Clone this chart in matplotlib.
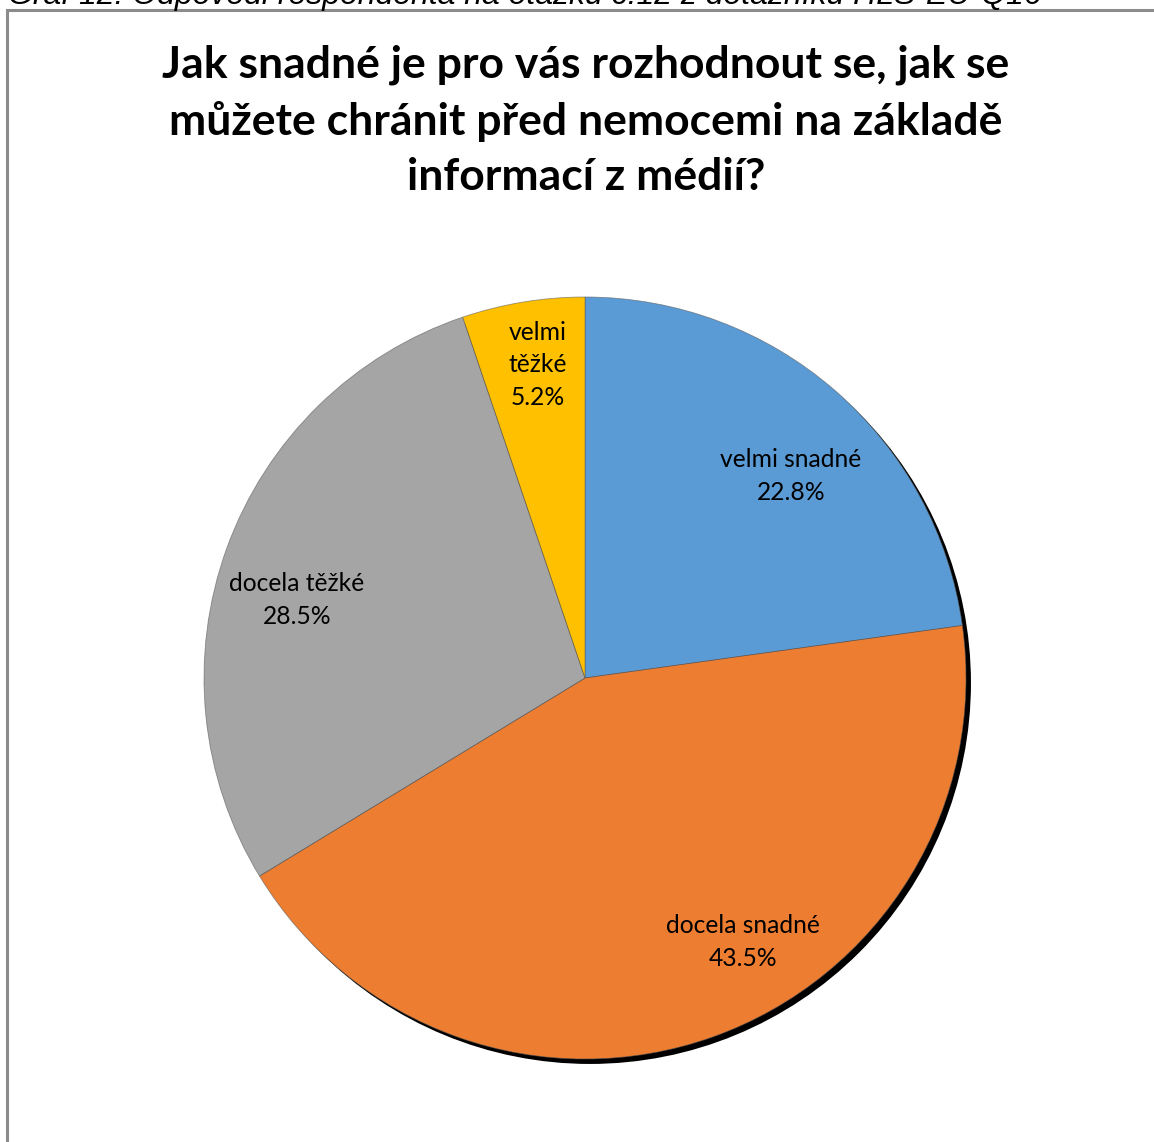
import matplotlib
matplotlib.use("Agg")
import matplotlib.pyplot as plt
from matplotlib.patches import Circle, Rectangle

# Survey answers and their shares (%)
categories = ["velmi snadné", "docela snadné", "docela těžké", "velmi těžké"]
shares = [22.8, 43.5, 28.5, 5.2]
colors = ["#5B9BD5", "#ED7D31", "#A5A5A5", "#FFC000"]

title = "Jak snadné je pro vás rozhodnout se, jak se\nmůžete chránit před nemocemi na základě\ninformací z médií?"
caption = "Graf 12: Odpovědi respondenta na otázku č.12 z dotazníku HLS-EU-Q16"

# label anchor positions, in units of the pie radius
label_xy = [(0.541, 0.530), (0.415, -0.693), (-0.756, 0.205), (-0.123, 0.822)]
label_text = ["velmi snadné", "docela snadné", "docela těžké", "velmi\ntěžké"]

W, H = 1154, 1142
fig = plt.figure(figsize=(W / 100, H / 100), dpi=100)
fig.patch.set_facecolor("white")

# chart frame (only its top and left edges fall inside the image)
frame = Rectangle((7 / W, -0.1), 1.2, (H - 10) / H + 0.1, transform=fig.transFigure,
                  facecolor="none", edgecolor="#8c8c8c", linewidth=2.2)
fig.patches.append(frame)

# figure caption sitting just above the frame
fig.text(8 / W, (H - 4) / H, caption, fontsize=23, style="italic",
         family="Liberation Sans", va="baseline", ha="left", color="black")

fig.text(586 / W, (H - 121) / H, title, fontsize=32, fontweight="bold",
         family="Lato", ha="center", va="center", linespacing=1.47)

r_px = 381
cx, cy = 585, H - 678
ax = fig.add_axes([(cx - r_px) / W, (cy - r_px) / H, 2 * r_px / W, 2 * r_px / H])
ax.axis("off")

# drop shadow behind the pie
ax.add_patch(Circle((0.013, -0.013), 1.0, facecolor="black", edgecolor="none",
                    zorder=0, clip_on=False))

wedges, _ = ax.pie(shares, colors=colors, startangle=90, counterclock=False, radius=1.0,
                   wedgeprops=dict(edgecolor=(0.35, 0.35, 0.35, 0.6), linewidth=0.6))
for w in wedges:
    w.set_zorder(1)
    w.set_clip_on(False)

ax.set_xlim(-1, 1)
ax.set_ylim(-1, 1)
ax.set_aspect("equal")

for (lx, ly), txt, val in zip(label_xy, label_text, shares):
    ax.text(lx, ly, f"{txt}\n{val:.1f}%", ha="center", va="center", fontsize=17.7,
            family="Lato", color="black", linespacing=1.5, zorder=3)

fig.savefig("out.png", dpi=100, facecolor="white")
